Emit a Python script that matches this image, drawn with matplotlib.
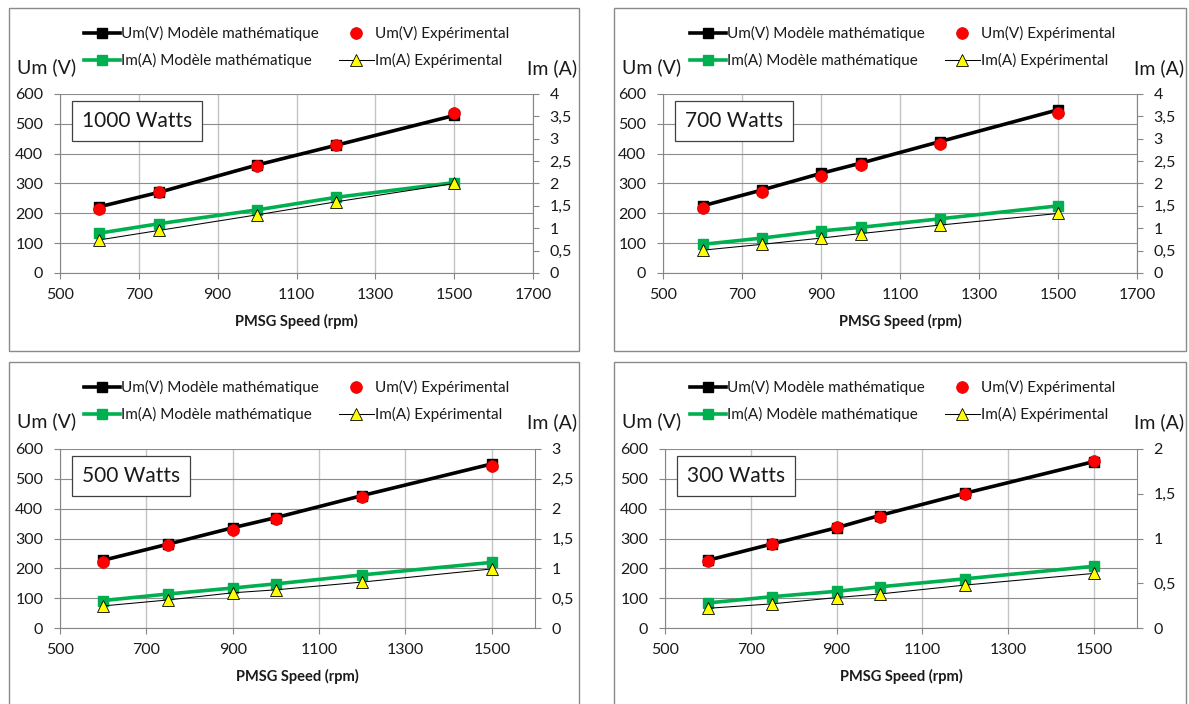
import numpy as np
import matplotlib
matplotlib.use('Agg')
import matplotlib.pyplot as plt
from matplotlib.patches import Rectangle
from matplotlib.ticker import MultipleLocator, FuncFormatter

plt.rcParams['font.family'] = ['Lato', 'DejaVu Sans']

# ---- data ----
speed_1000 = [600, 750, 1000, 1200, 1500]
um_model_1000 = [222, 270, 362, 428, 528]
um_exp_1000 = [215, 270, 358, 430, 535]
im_model_1000 = [0.89, 1.10, 1.41, 1.69, 2.02]
im_exp_1000 = [0.74, 0.95, 1.30, 1.59, 2.00]

speed_700 = [600, 750, 900, 1000, 1200, 1500]
um_model_700 = [225, 278, 334, 368, 440, 547]
um_exp_700 = [218, 271, 326, 361, 434, 536]
im_model_700 = [0.64, 0.78, 0.94, 1.02, 1.21, 1.50]
im_exp_700 = [0.51, 0.64, 0.78, 0.88, 1.07, 1.33]

speed_500 = [600, 750, 900, 1000, 1200, 1500]
um_model_500 = [227, 281, 336, 370, 444, 550]
um_exp_500 = [221, 277, 330, 366, 439, 544]
im_model_500 = [0.46, 0.57, 0.67, 0.74, 0.89, 1.10]
im_exp_500 = [0.37, 0.47, 0.59, 0.64, 0.77, 0.99]

speed_300 = [600, 750, 900, 1000, 1200, 1500]
um_model_300 = [227, 282, 336, 377, 452, 558]
um_exp_300 = [225, 280, 337, 373, 450, 559]
im_model_300 = [0.28, 0.35, 0.41, 0.46, 0.55, 0.69]
im_exp_300 = [0.22, 0.27, 0.34, 0.38, 0.48, 0.61]

titles = ['1000 Watts', '700 Watts', '500 Watts', '300 Watts']
im_max = [4, 4, 3, 2]
x_max = [1700, 1700, 1600, 1600]

labels = ['Um(V) Modèle mathématique', 'Im(A) Modèle mathématique',
          'Um(V) Expérimental', 'Im(A) Expérimental']

W, H = 1189, 704
fig = plt.figure(figsize=(W / 100, H / 100), dpi=100)


def fx(px):
    return px / W


def fy(py):
    return 1 - py / H


def comma(v, pos):
    return ('%g' % v).replace('.', ',')


# pixel layout: frame (l, t, r, b), axes (l, t, r, b)
frames = [(9, 8, 579, 351), (614, 8, 1186, 351), (9, 362, 579, 712), (614, 362, 1186, 712)]
boxes = [(60, 94, 533, 273), (663, 94, 1137, 273), (60, 449, 535, 628), (665, 449, 1137, 628)]

data = [
    (speed_1000, um_model_1000, um_exp_1000, im_model_1000, im_exp_1000),
    (speed_700, um_model_700, um_exp_700, im_model_700, im_exp_700),
    (speed_500, um_model_500, um_exp_500, im_model_500, im_exp_500),
    (speed_300, um_model_300, um_exp_300, im_model_300, im_exp_300),
]

txt = '#1a1a1a'
axc = '#868686'
green = '#00b050'

for i in range(4):
    speed, um_m, um_e, im_m, im_e = data[i]
    fl, ft, fr, fb = frames[i]
    fig.patches.append(Rectangle((fx(fl), fy(fb)), fx(fr - fl), (fb - ft) / H,
                                 transform=fig.transFigure, fill=False,
                                 ec='#8a8a8a', lw=1.0))
    l, t, r, b = boxes[i]
    ax = fig.add_axes([fx(l), fy(b), fx(r - l), (b - t) / H])
    ax.set_xlim(500, x_max[i])
    ax.set_ylim(0, 600)
    ax.set_xticks(np.arange(500, x_max[i] + 1, 200))
    ax.yaxis.set_major_locator(MultipleLocator(100))
    ax.grid(axis='y', color='#8c8c8c', lw=0.8)
    ax.grid(axis='x', color='#c4c4c4', lw=1.0)
    ax.set_axisbelow(True)
    ax.spines['top'].set_visible(False)
    ax.spines['right'].set_visible(False)
    for s in ['left', 'bottom']:
        ax.spines[s].set_color(axc)
        ax.spines[s].set_linewidth(0.8)
    ax.tick_params(axis='both', direction='out', length=4, width=0.8, color=axc,
                   labelsize=11.5, labelcolor=txt)
    ax.tick_params(axis='y', pad=8)
    ax.tick_params(axis='x', pad=7)

    ax2 = ax.twinx()
    ax2.set_ylim(0, im_max[i])
    ax2.yaxis.set_major_locator(MultipleLocator(0.5))
    ax2.yaxis.set_major_formatter(FuncFormatter(comma))
    for s in ['top', 'left', 'bottom']:
        ax2.spines[s].set_visible(False)
    ax2.spines['right'].set_color(axc)
    ax2.spines['right'].set_linewidth(0.8)
    ax2.tick_params(axis='y', direction='out', length=4, width=0.8, color=axc,
                    labelsize=11.5, labelcolor=txt, pad=8)

    h1, = ax.plot(speed, um_m, color='black', lw=2.6, marker='s', ms=7.5,
                  mfc='black', mec='black', zorder=3)
    h2, = ax.plot(speed, um_e, ls='none', marker='o', ms=8.5, mfc='#ff0000',
                  mec='#e00000', mew=0.5, zorder=4)
    h3, = ax2.plot(speed, im_m, color=green, lw=2.6, marker='s', ms=7.5,
                   mfc=green, mec=green, zorder=3)
    h4, = ax2.plot(speed, im_e, color='black', lw=0.75, marker='^', ms=9,
                   mfc='#ffff00', mec='black', mew=0.6, zorder=4)

    ax2.text(0.047, 0.905, titles[i], transform=ax2.transAxes, ha='left', va='top',
             fontsize=15, color=txt, zorder=10,
             bbox=dict(boxstyle='square,pad=0.48', fc='white', ec='#404040', lw=0.9))

    cx = (fl + fr) / 2 + 3
    fig.legend([h1, h3, h2, h4], labels, loc='center',
               bbox_to_anchor=(fx(cx), fy(ft + 39)), ncol=2, frameon=False,
               fontsize=11, handlelength=2.3, handletextpad=0.1,
               columnspacing=1.3, labelspacing=0.8, numpoints=1,
               labelcolor=txt, borderpad=0)

    fig.text(fx(fl + 8), fy(ft + 59), 'Um (V)', ha='left', va='center',
             fontsize=14, color=txt)
    fig.text(fx(fr - 2), fy(ft + 60), 'Im (A)', ha='right', va='center',
             fontsize=14, color=txt)
    fig.text(fx((l + r) / 2), fy(b + 48), 'PMSG Speed (rpm)', ha='center',
             va='center', fontsize=10.5, fontweight='bold', color=txt)

fig.savefig('out.png', dpi=100)
